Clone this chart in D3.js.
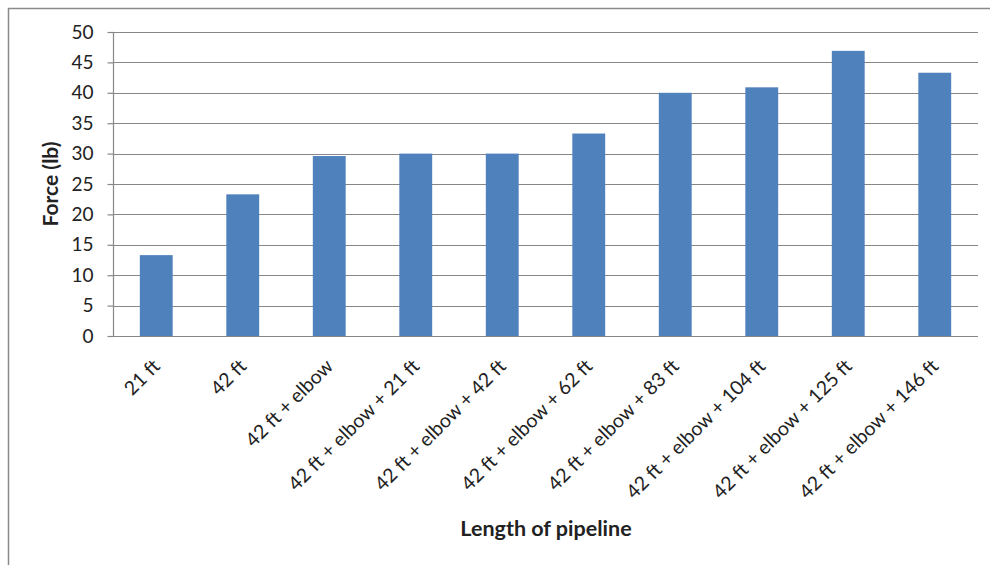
<!DOCTYPE html>
<html>
<head>
<meta charset="utf-8">
<script src="https://cdn.jsdelivr.net/npm/d3@7"></script>
<style>
  html, body { margin: 0; padding: 0; background: #fff; }
  svg { display: block; }
  text { font-family: Lato, "Open Sans", sans-serif; fill: #222; }
</style>
</head>
<body>
<svg id="chart" width="990" height="565"></svg>
<script>
// Pipeline lengths tested and the measured force at each
const categories = [
  "21 ft", "42 ft", "42 ft + elbow", "42 ft + elbow + 21 ft",
  "42 ft + elbow + 42 ft", "42 ft + elbow + 62 ft", "42 ft + elbow + 83 ft",
  "42 ft + elbow + 104 ft", "42 ft + elbow + 125 ft", "42 ft + elbow + 146 ft"
];
const forces = [13.3, 23.3, 29.6, 30.0, 30.0, 33.3, 40.0, 40.9, 46.9, 43.3];
const yTicks = [0, 5, 10, 15, 20, 25, 30, 35, 40, 45, 50];

const svg = d3.select("#chart");
const plot = { left: 113, right: 978, top: 32, bottom: 336 };
const fontStack = "Lato, 'Open Sans', sans-serif";

// chart area frame
svg.append("rect")
  .attr("x", 8.5).attr("y", 8.5)
  .attr("width", 1000).attr("height", 600)
  .attr("fill", "none").attr("stroke", "#8a8a8a").attr("stroke-width", 1.5);

const x = d3.scaleBand().domain(categories).range([plot.left, plot.right]).paddingInner(0.62).paddingOuter(0.31);
const y = d3.scaleLinear().domain([0, 50]).range([plot.bottom, plot.top]);

// horizontal gridlines
svg.append("g")
  .selectAll("line")
  .data(yTicks)
  .join("line")
  .attr("x1", plot.left).attr("x2", plot.right)
  .attr("y1", d => Math.round(y(d)) + 0.5).attr("y2", d => Math.round(y(d)) + 0.5)
  .attr("stroke", "#878787").attr("stroke-width", 1.2);

// bars
svg.append("g")
  .selectAll("rect")
  .data(forces)
  .join("rect")
  .attr("x", (d, i) => x(categories[i]))
  .attr("width", x.bandwidth())
  .attr("y", d => y(d))
  .attr("height", d => y(0) - y(d))
  .attr("fill", "#4f81bd");

// y axis
const yAxis = svg.append("g")
  .attr("transform", `translate(${plot.left + 0.5},0)`)
  .call(d3.axisLeft(y).tickValues(yTicks).tickSize(6).tickPadding(14));
yAxis.select(".domain").attr("stroke", "#878787").attr("stroke-width", 1.2).attr("d", `M0,${plot.top}V${plot.bottom}`);
yAxis.selectAll(".tick line").attr("stroke", "#878787").attr("stroke-width", 1.2);
yAxis.selectAll(".tick text").style("font-size", "19px").attr("fill", "#222")
  .style("font-family", fontStack);

// x axis with rotated category labels
const xAxis = svg.append("g")
  .attr("transform", `translate(0,${plot.bottom + 0.5})`)
  .call(d3.axisBottom(x).tickSize(0).tickPadding(0));
xAxis.select(".domain").attr("stroke", "#878787").attr("stroke-width", 1.2)
  .attr("d", `M${plot.left},0H${plot.right}`);
xAxis.selectAll(".tick text")
  .style("font-size", "19.5px").attr("fill", "#222")
  .style("font-family", fontStack)
  .attr("text-anchor", "end")
  .attr("dy", null).attr("y", 0)
  .attr("transform", "translate(5,31) rotate(-45)");

// axis titles
svg.append("text")
  .attr("transform", `translate(58,${(plot.top + plot.bottom) / 2}) rotate(-90)`)
  .attr("text-anchor", "middle")
  .style("font-size", "21px").style("font-weight", "bold")
  .text("Force (lb)");

svg.append("text")
  .attr("x", 546).attr("y", 536)
  .attr("text-anchor", "middle")
  .style("font-size", "21.5px").style("font-weight", "bold")
  .text("Length of pipeline");
</script>
</body>
</html>
